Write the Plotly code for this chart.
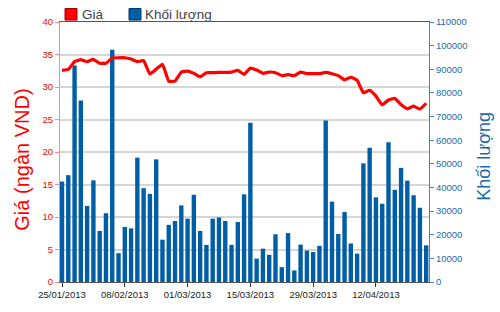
import plotly.graph_objects as go

tick_labels = ["25/01/2013", "08/02/2013", "01/03/2013", "15/03/2013", "29/03/2013", "12/04/2013"]
tick_index = [0, 10, 20, 30, 40, 50]

price = [32.55, 32.7, 33.9, 34.2, 33.9, 34.25, 33.65, 33.65, 34.45, 34.5,
         34.5, 34.3, 33.9, 34.05, 32.0, 32.75, 33.5, 30.9, 30.9, 32.3,
         32.45, 32.1, 31.55, 32.2, 32.2, 32.25, 32.25, 32.3, 32.55, 31.95,
         32.9, 32.6, 32.1, 32.3, 32.2, 31.75, 31.9, 31.75, 32.3, 32.05,
         32.05, 32.05, 32.25, 32.05, 31.75, 31.1, 31.5, 31.05, 29.1, 29.5,
         28.6, 27.25, 28.0, 28.25, 27.3, 26.65, 27.05, 26.6, 27.5]

volume = [42500, 45200, 91600, 76800, 32200, 43000, 21600, 29100, 98300, 12200,
          23300, 22700, 52600, 39700, 37300, 51900, 17900, 24200, 25800, 32400,
          26800, 36900, 21600, 15700, 26800, 27300, 25800, 15700, 25400, 37100,
          67400, 9900, 14100, 11500, 20200, 6300, 20700, 4900, 15800, 13300,
          12700, 15300, 68300, 34000, 20300, 29600, 16300, 12000, 50200, 56800,
          35800, 33100, 59100, 39000, 48300, 42900, 36700, 31400, 15500]

idx = list(range(len(price)))

RED = "#ff0000"
BLUE = "#005ea6"
FONT = "Liberation Sans"

fig = go.Figure()
fig.add_trace(go.Bar(x=idx, y=volume, yaxis="y", marker=dict(color=BLUE, line=dict(width=0)),
                     width=0.7, name="Khối lượng", showlegend=False))
fig.add_trace(go.Scatter(x=idx, y=price, yaxis="y2", mode="lines",
                         line=dict(color=RED, width=3.2, shape="spline", smoothing=0.3),
                         name="Giá", showlegend=False))

fig.update_layout(
    width=500, height=312,
    margin=dict(l=60, r=71, t=22, b=20),
    paper_bgcolor="white", plot_bgcolor="white",
    font=dict(family=FONT, size=10, color="#333"),
    xaxis=dict(range=[-0.32, 58.45], tickvals=tick_index, ticktext=tick_labels,
               showgrid=False, zeroline=False, showline=True, linecolor="#555",
               linewidth=1, mirror=True, ticks="outside", ticklen=4, tickcolor="#333",
               tickfont=dict(size=9.5, color="#222", family=FONT)),
    yaxis=dict(side="right", range=[0, 110000], dtick=10000, tickformat="d", showgrid=False,
               zeroline=False, showline=True, linecolor="#3a8cc6", linewidth=1,
               ticks="outside", ticklen=4, tickcolor="#3a8cc6",
               tickfont=dict(size=9.5, color="#1a6aa8", family=FONT)),
    yaxis2=dict(overlaying="y", side="left", range=[0, 40], dtick=5,
                showgrid=True, gridcolor="#d6d6d6", gridwidth=2,
                zeroline=False, showline=True, linecolor="#ff8a8a", linewidth=1,
                ticks="outside", ticklen=4, tickcolor="#ff8a8a",
                tickfont=dict(size=9.5, color=RED, family=FONT)),
    showlegend=False,
)

# legend drawn as markers + text
fig.add_shape(type="rect", xref="paper", yref="paper", x0=(65-60)/369, x1=(77-60)/369,
              y0=(292-20)/270, y1=(292-8)/270, fillcolor=RED, line=dict(color="#aa0000", width=1))
fig.add_shape(type="rect", xref="paper", yref="paper", x0=(129-60)/369, x1=(141-60)/369,
              y0=(292-20)/270, y1=(292-8)/270, fillcolor=BLUE, line=dict(color="#003a70", width=1))
fig.add_annotation(text="Giá", xref="paper", yref="paper", x=(80-60)/369, y=(292-14)/270,
                   xanchor="left", yanchor="middle", showarrow=False,
                   font=dict(size=13.5, color="#444", family=FONT))
fig.add_annotation(text="Khối lượng", xref="paper", yref="paper", x=(143-60)/369, y=(292-14)/270,
                   xanchor="left", yanchor="middle", showarrow=False,
                   font=dict(size=13.5, color="#444", family=FONT))
# axis titles
fig.add_annotation(text="Giá (ngàn VND)", xref="paper", yref="paper", x=(22-60)/369, y=(292-165)/270,
                   xanchor="center", yanchor="middle", textangle=-90, showarrow=False,
                   font=dict(size=20, color=RED, family=FONT))
fig.add_annotation(text="Khối lượng", xref="paper", yref="paper", x=(484-60)/369, y=(292-162)/270,
                   xanchor="center", yanchor="middle", textangle=-90, showarrow=False,
                   font=dict(size=18, color="#1a6aa8", family=FONT))

fig.write_html("out.html")
